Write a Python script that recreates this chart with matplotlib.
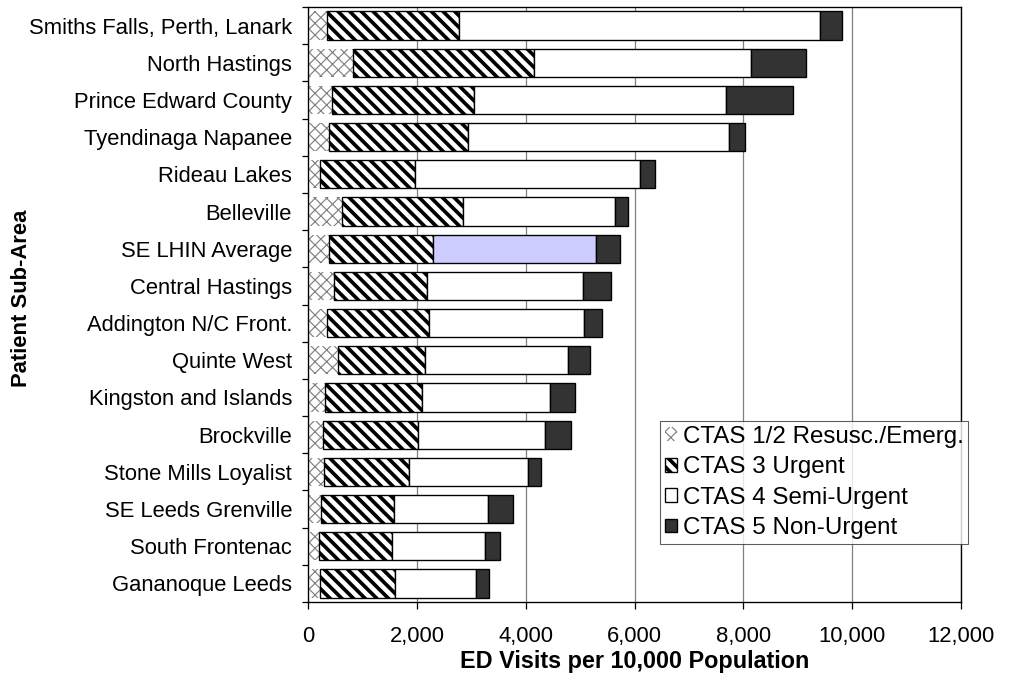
import numpy as np
import matplotlib
matplotlib.use("Agg")
import matplotlib.pyplot as plt
from matplotlib.ticker import FixedLocator, FuncFormatter

# --- data: ED visits per 10,000 population by CTAS level ---
areas = [
    "Smiths Falls, Perth, Lanark", "North Hastings", "Prince Edward County",
    "Tyendinaga Napanee", "Rideau Lakes", "Belleville", "SE LHIN Average",
    "Central Hastings", "Addington N/C Front.", "Quinte West",
    "Kingston and Islands", "Brockville", "Stone Mills Loyalist",
    "SE Leeds Grenville", "South Frontenac", "Gananoque Leeds",
]
ctas12 = [355, 835, 445, 390, 220, 630, 390, 485, 345, 550, 320, 280, 295, 240, 200, 225]
ctas3 = [2410, 3325, 2605, 2555, 1745, 2210, 1900, 1700, 1875, 1600, 1770, 1735, 1565, 1340, 1350, 1380]
ctas4 = [6635, 3980, 4625, 4785, 4140, 2805, 3000, 2865, 2850, 2630, 2360, 2340, 2175, 1720, 1710, 1475]
ctas5 = [405, 1010, 1245, 305, 270, 230, 445, 515, 335, 395, 460, 470, 245, 460, 275, 245]
highlight = "SE LHIN Average"

DPI = 70
FS = 22.6   # tick labels, ~22 px
FS_LEG = 24.8

plt.rcParams["font.family"] = ["Liberation Sans", "DejaVu Sans"]
plt.rcParams["hatch.linewidth"] = 3.8

fig = plt.figure(figsize=(1010 / DPI, 674 / DPI), dpi=DPI)
ax = fig.add_axes([0.305, 0.1068, 0.6465, 0.8828])

y = np.arange(len(areas))
h = 0.76
left = np.zeros(len(areas))

# CTAS 1/2 - light grey cross pattern, no outline
b12 = ax.barh(y, ctas12, left=left, height=h, color="white", edgecolor="#808080",
              hatch="xx", linewidth=0, label="CTAS 1/2 Resusc./Emerg.")
for p in b12:
    p.set_hatch_linewidth(1.2)
left += ctas12

b3 = ax.barh(y, ctas3, left=left, height=h, color="white", edgecolor="black",
             hatch="\\\\", linewidth=1.4, label="CTAS 3 Urgent")
left += ctas3

c4 = ["#ccccff" if a == highlight else "white" for a in areas]
b4 = ax.barh(y, ctas4, left=left, height=h, color=c4, edgecolor="black",
             linewidth=1.4, label="CTAS 4 Semi-Urgent")
left += ctas4

b5 = ax.barh(y, ctas5, left=left, height=h, color="#333333", edgecolor="black",
             linewidth=1.4, label="CTAS 5 Non-Urgent")

# axes
ax.set_xlim(0, 12000)
ax.set_ylim(len(areas) - 0.5, -0.5)
ax.set_xticks(np.arange(0, 12001, 2000))
ax.xaxis.set_major_formatter(FuncFormatter(lambda v, _: f"{v:,.0f}"))
ax.set_yticks(y)
ax.set_yticklabels(areas)
ax.yaxis.set_minor_locator(FixedLocator(np.arange(-0.5, len(areas), 1)))
ax.tick_params(axis="y", which="major", length=0, pad=16.5, labelsize=FS)
ax.tick_params(axis="y", which="minor", length=6.2, width=1.3, direction="out")
ax.tick_params(axis="x", which="major", length=7, width=1.3, direction="out",
               pad=18, labelsize=FS)

ax.set_axisbelow(True)
ax.xaxis.grid(True, color="#808080", linewidth=1.3)
for s in ax.spines.values():
    s.set_color("black")
    s.set_linewidth(1.4)

ax.set_xlabel("ED Visits per 10,000 Population", fontsize=24, fontweight="bold", labelpad=3)
ax.set_ylabel("Patient Sub-Area", fontsize=FS, fontweight="bold")
ax.yaxis.set_label_coords(-0.4227, 0.511)

leg = ax.legend(loc="lower left", bbox_to_anchor=(0.539, 0.0975), fontsize=FS_LEG,
                frameon=True, fancybox=False, edgecolor="#333333",
                handlelength=0.5, handleheight=0.5, handletextpad=0.25,
                labelspacing=0.35, borderpad=0.2, borderaxespad=0)
leg.get_frame().set_linewidth(1.1)
leg.legend_handles[0].set_hatch_linewidth(1.2)

fig.savefig("out.png", dpi=DPI)
